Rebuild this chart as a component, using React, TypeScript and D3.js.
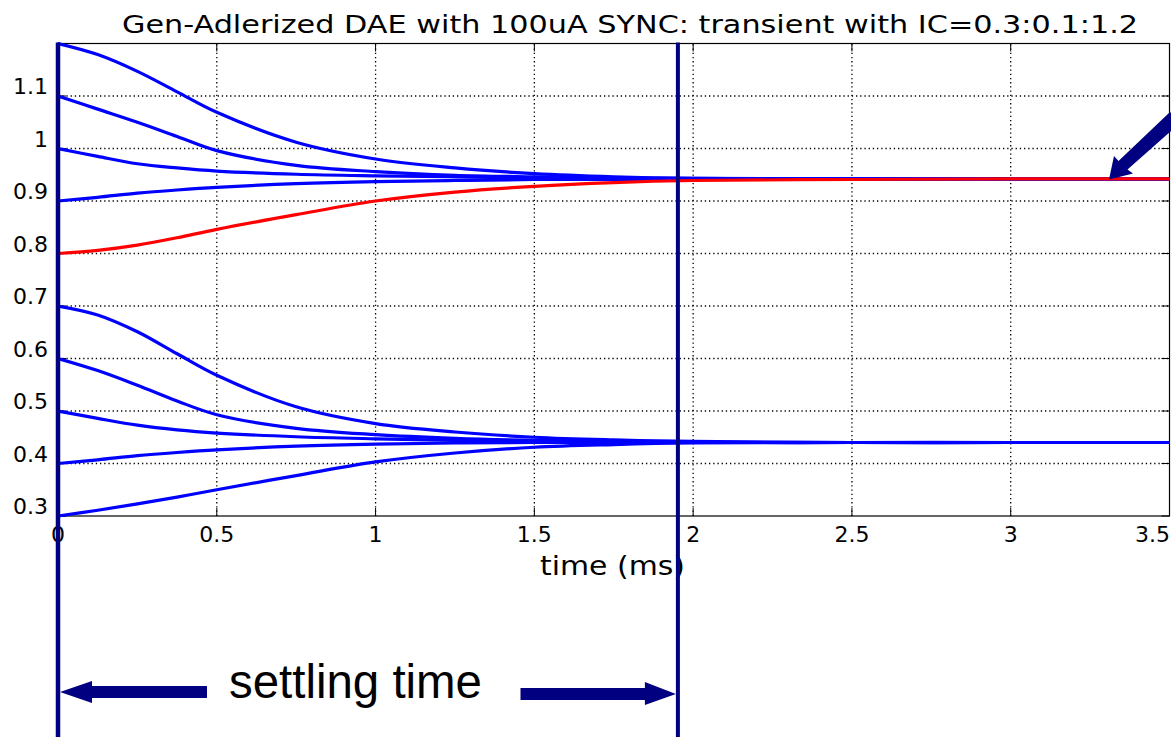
import React from "react";
import * as d3 from "d3";

const times = [0, 0.125, 0.25, 0.375, 0.5, 0.75, 1, 1.25, 1.5, 1.75, 2, 2.5, 3, 3.5];

const ic03 = [0.3, 0.311, 0.323, 0.336, 0.35, 0.377, 0.403, 0.42, 0.431, 0.436, 0.439, 0.44, 0.44, 0.44];
const ic04 = [0.4, 0.407, 0.415, 0.421, 0.426, 0.433, 0.437, 0.439, 0.44, 0.44, 0.44, 0.44, 0.44, 0.44];
const ic05 = [0.5, 0.486, 0.473, 0.464, 0.458, 0.451, 0.447, 0.444, 0.442, 0.441, 0.44, 0.44, 0.44, 0.44];
const ic06 = [0.6, 0.577, 0.549, 0.519, 0.493, 0.467, 0.455, 0.448, 0.444, 0.442, 0.441, 0.44, 0.44, 0.44];
const ic07 = [0.7, 0.683, 0.651, 0.609, 0.568, 0.508, 0.476, 0.46, 0.45, 0.445, 0.442, 0.44, 0.44, 0.44];
const ic08 = [0.8, 0.806, 0.816, 0.83, 0.846, 0.874, 0.9, 0.917, 0.928, 0.935, 0.939, 0.941, 0.942, 0.942];
const ic09 = [0.9, 0.907, 0.915, 0.921, 0.926, 0.933, 0.937, 0.939, 0.941, 0.941, 0.942, 0.942, 0.942, 0.942];
const ic10 = [1.0, 0.985, 0.971, 0.963, 0.957, 0.951, 0.948, 0.946, 0.944, 0.943, 0.942, 0.942, 0.942, 0.942];
const ic11 = [1.1, 1.075, 1.05, 1.023, 0.996, 0.968, 0.956, 0.949, 0.946, 0.944, 0.943, 0.942, 0.942, 0.942];
const ic12 = [1.2, 1.179, 1.147, 1.108, 1.069, 1.012, 0.98, 0.963, 0.952, 0.946, 0.943, 0.942, 0.942, 0.942];

const blueSeries = [ic03, ic04, ic05, ic06, ic07, ic09, ic10, ic11, ic12];
const redSeries = [ic08];

const xTicks = [0, 0.5, 1, 1.5, 2, 2.5, 3, 3.5];
const xTickLabels = ["0", "0.5", "1", "1.5", "2", "2.5", "3", "3.5"];
const yTicks = [0.3, 0.4, 0.5, 0.6, 0.7, 0.8, 0.9, 1.0, 1.1, 1.2];
const yTickLabels = ["0.3", "0.4", "0.5", "0.6", "0.7", "0.8", "0.9", "1", "1.1", ""];

const settlingTime = 1.952;

const titleText = "Gen-Adlerized DAE with 100uA SYNC: transient with IC=0.3:0.1:1.2";
const xLabelText = "time (ms)";
const annotationText = "settling time";

const W = 1171;
const H = 737;
const L = 58;
const R = 1169.5;
const T = 43.5;
const B = 516;

export default function App() {
  const x = d3.scaleLinear().domain([0, 3.5]).range([L, R]);
  const y = d3.scaleLinear().domain([0.3, 1.2]).range([B, T]);
  const line = d3
    .line<number>()
    .x((_, i) => x(times[i]))
    .y((d) => y(d))
    .curve(d3.curveCatmullRom.alpha(0.5));

  const font = "DejaVu Sans, sans-serif";
  const navy = "#000080";
  const xs = x(settlingTime);
  const tickLen = 8;
  const arrowY = 693;

  return (
    <svg
      width={W}
      height={H}
      style={{ position: "absolute", left: 0, top: 0, background: "#fff" }}
      xmlns="http://www.w3.org/2000/svg"
    >
      <rect x={0} y={0} width={W} height={H} fill="#fff" />
      <defs>
        <clipPath id="plotclip">
          <rect x={L} y={T - 2} width={R - L} height={B - T + 4} />
        </clipPath>
      </defs>
      {/* grid */}
      <g stroke="#000" strokeWidth={1.3} strokeDasharray="1.3 2.9">
        {xTicks.slice(1, -1).map((t) => (
          <line key={"gx" + t} x1={x(t)} x2={x(t)} y1={B} y2={T} />
        ))}
        {yTicks.slice(1, -1).map((t) => (
          <line key={"gy" + t} x1={L} x2={R} y1={y(t)} y2={y(t)} />
        ))}
      </g>
      {/* ticks */}
      <g stroke="#000" strokeWidth={1}>
        {xTicks.map((t) => (
          <g key={"tx" + t}>
            <line x1={x(t)} x2={x(t)} y1={B} y2={B - tickLen} />
            <line x1={x(t)} x2={x(t)} y1={T} y2={T + tickLen} />
          </g>
        ))}
        {yTicks.map((t) => (
          <g key={"ty" + t}>
            <line x1={L} x2={L + tickLen} y1={y(t)} y2={y(t)} />
            <line x1={R} x2={R - tickLen} y1={y(t)} y2={y(t)} />
          </g>
        ))}
      </g>
      {/* box */}
      <rect x={L} y={T} width={R - L} height={B - T} fill="none" stroke="#000" strokeWidth={1.2} />
      {/* curves */}
      <g clipPath="url(#plotclip)" fill="none" strokeWidth={3.2} strokeLinecap="round">
        {blueSeries.map((s, i) => (
          <path key={"b" + i} d={line(s) || ""} stroke="#0000ff" />
        ))}
        {redSeries.map((s, i) => (
          <path key={"r" + i} d={line(s) || ""} stroke="#ff0000" />
        ))}
      </g>
      {/* tick labels */}
      <g fontFamily={font} fontSize={22} fill="#000">
        {xTicks.map((t, i) =>
          i === xTicks.length - 1 ? (
            <text key={"lx" + t} x={1170} y={542} textAnchor="end">
              {xTickLabels[i]}
            </text>
          ) : (
            <text key={"lx" + t} x={x(t)} y={542} textAnchor="middle">
              {xTickLabels[i]}
            </text>
          )
        )}
        {yTicks.map((t, i) => (
          <text key={"ly" + t} x={48} y={y(t) - 2} textAnchor="end">
            {yTickLabels[i]}
          </text>
        ))}
      </g>
      {/* title & axis label */}
      <text
        x={630}
        y={33}
        fontFamily={font}
        fontSize={25}
        textAnchor="middle"
        textLength={1016}
        lengthAdjust="spacingAndGlyphs"
      >
        {titleText}
      </text>
      <text
        x={612.5}
        y={575}
        fontFamily={font}
        fontSize={27}
        textAnchor="middle"
        textLength={145}
        lengthAdjust="spacingAndGlyphs"
      >
        {xLabelText}
      </text>
      {/* annotations */}
      <line x1={L} x2={L} y1={T - 1} y2={H} stroke={navy} strokeWidth={4.5} />
      <line x1={xs} x2={xs} y1={T - 1} y2={H} stroke={navy} strokeWidth={4} />
      <text
        x={355.5}
        y={698}
        fontFamily="Liberation Sans, Arial, sans-serif"
        fontSize={48}
        textAnchor="middle"
        textLength={253}
        lengthAdjust="spacingAndGlyphs"
      >
        {annotationText}
      </text>
      {/* left arrow */}
      <path
        d={`M${L + 2},${arrowY - 1} L${L + 34},${arrowY - 12} L${L + 34},${arrowY - 7} L207,${arrowY - 7} L207,${arrowY + 5} L${L + 34},${arrowY + 5} L${L + 34},${arrowY + 10} Z`}
        fill={navy}
      />
      {/* right arrow */}
      <path
        d={`M${xs - 2},${arrowY + 1} L${xs - 33},${arrowY - 11} L${xs - 33},${arrowY - 5} L520.5,${arrowY - 5} L520.5,${arrowY + 7} L${xs - 33},${arrowY + 7} L${xs - 33},${arrowY + 12} Z`}
        fill={navy}
      />
      {/* diagonal arrow */}
      <path
        d="M1109,179.5 L1114,156 L1118.5,161 L1170,112 L1180,123 L1127.5,169.5 L1133,173.5 Z"
        fill={navy}
      />
    </svg>
  );
}
